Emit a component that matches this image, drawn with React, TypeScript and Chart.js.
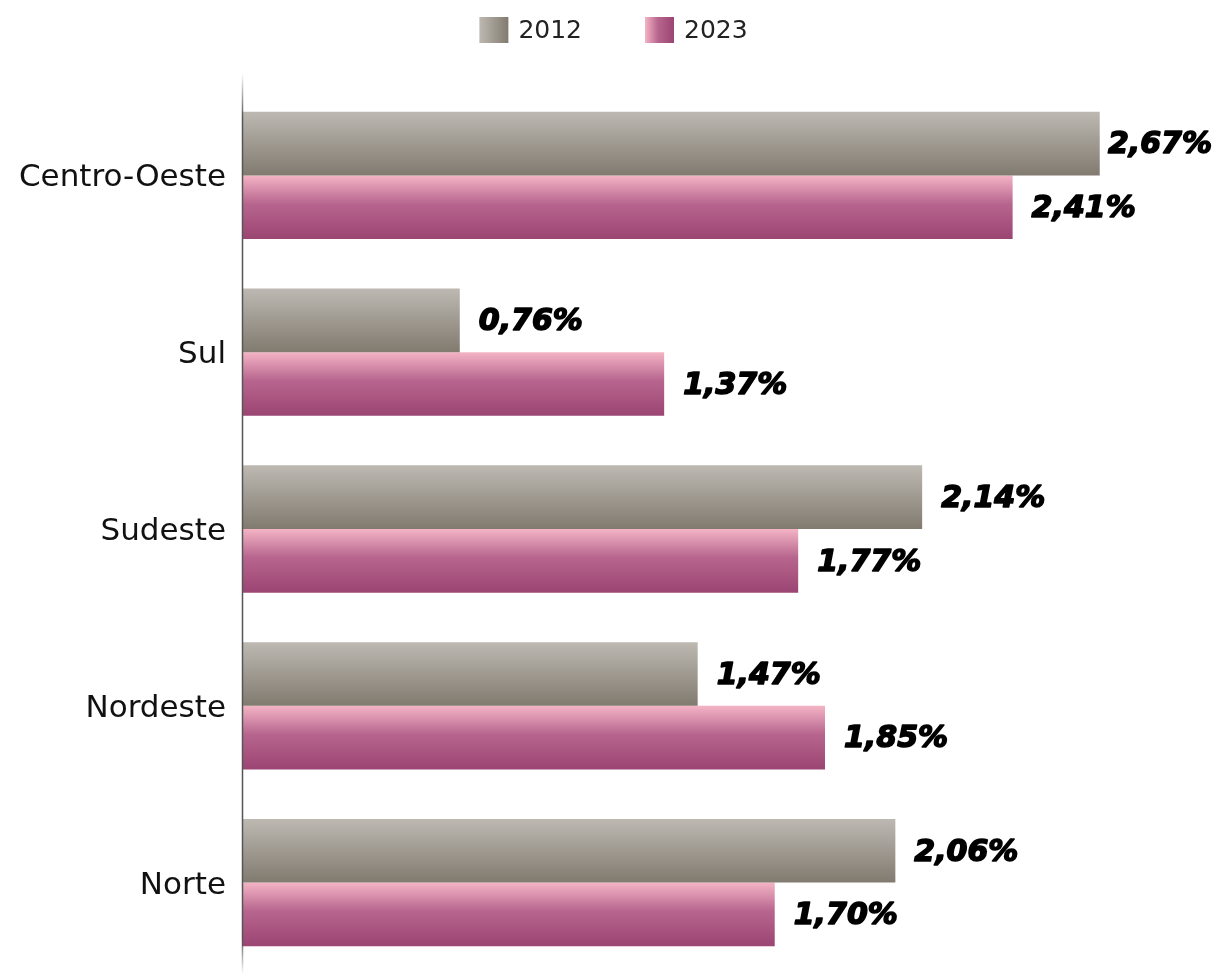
import React, { useEffect, useRef } from "react";
import { Chart, registerables } from "chart.js";

Chart.register(...registerables);

const categories = ["Centro-Oeste", "Sul", "Sudeste", "Nordeste", "Norte"];
const seriesLabels = ["2012", "2023"];
const values2012 = [2.67, 0.76, 2.14, 1.47, 2.06];
const values2023 = [2.41, 1.37, 1.77, 1.85, 1.7];

const axisMin = 0.11;
const axisMax = 3.02;

const grayStops: [number, string][] = [
  [0, "#bdb9b2"],
  [1, "#817a6f"],
];
const pinkStops: [number, string][] = [
  [0, "#f4b4c5"],
  [0.45, "#b7658e"],
  [1, "#9b4572"],
];
const seriesStops = [grayStops, pinkStops];

const CAT_PCT = 0.72;

function makeGradient(ctx: CanvasRenderingContext2D, x0: number, y0: number, x1: number, y1: number, stops: [number, string][]) {
  const g = ctx.createLinearGradient(x0, y0, x1, y1);
  stops.forEach(([o, c]) => g.addColorStop(o, c));
  return g;
}

function barFill(context: any) {
  const chart = context.chart;
  const stops = seriesStops[context.datasetIndex] || grayStops;
  if (!chart.chartArea || context.dataIndex === undefined) return stops[stops.length - 1][1];
  const y = chart.scales.y;
  const center = y.getPixelForValue(context.dataIndex);
  const catW = y.height / categories.length;
  const thick = (catW * CAT_PCT) / 2;
  const top = context.datasetIndex === 0 ? center - thick : center;
  return makeGradient(chart.ctx, 0, top, 0, top + thick, stops);
}

const fmt = (v: number) => v.toFixed(2).replace(".", ",") + "%";

const axisLinePlugin = {
  id: "axisLine",
  afterDatasetsDraw(chart: any) {
    const { ctx, chartArea } = chart;
    const x = chartArea.left + 0.5;
    const top = chartArea.top - 14;
    const bottom = chart.height;
    const g = ctx.createLinearGradient(0, top, 0, bottom);
    g.addColorStop(0, "rgba(85,85,85,0)");
    g.addColorStop(0.05, "rgba(85,85,85,1)");
    g.addColorStop(0.96, "rgba(85,85,85,1)");
    g.addColorStop(1, "rgba(85,85,85,0)");
    ctx.save();
    ctx.strokeStyle = g;
    ctx.lineWidth = 1.5;
    ctx.beginPath();
    ctx.moveTo(x, top);
    ctx.lineTo(x, bottom);
    ctx.stroke();
    ctx.restore();
  },
};

const dataLabelPlugin = {
  id: "dataLabels",
  afterDatasetsDraw(chart: any) {
    const { ctx } = chart;
    ctx.save();
    ctx.font = 'italic bold 30px "DejaVu Sans"';
    ctx.fillStyle = "#000";
    ctx.strokeStyle = "#000";
    ctx.lineWidth = 1.6;
    ctx.lineJoin = "round";
    ctx.textAlign = "left";
    ctx.textBaseline = "middle";
    chart.data.datasets.forEach((ds: any, di: number) => {
      const meta = chart.getDatasetMeta(di);
      meta.data.forEach((el: any, i: number) => {
        const text = fmt(ds.data[i]);
        const w = ctx.measureText(text).width;
        let x = el.x + 19;
        if (x + w > chart.width - 7) x = chart.width - 7 - w;
        ctx.fillText(text, x, el.y + 2);
        ctx.strokeText(text, x, el.y + 2);
      });
    });
    ctx.restore();
  },
};

const legendPlugin = {
  id: "customLegend",
  afterDraw(chart: any) {
    const { ctx } = chart;
    ctx.save();
    ctx.font = '25px "DejaVu Sans"';
    ctx.textBaseline = "middle";
    ctx.textAlign = "left";
    const boxW = 29;
    const boxH = 26;
    const gapText = 10;
    const gapItem = 63;
    const widths = seriesLabels.map((l) => boxW + gapText + ctx.measureText(l).width);
    const total = widths.reduce((a, b) => a + b, 0) + gapItem * (seriesLabels.length - 1);
    let x = chart.width / 2 + 4 - total / 2;
    const top = 17;
    seriesLabels.forEach((l, i) => {
      ctx.fillStyle = makeGradient(ctx, x, 0, x + boxW, 0, seriesStops[i]);
      ctx.fillRect(x, top, boxW, boxH);
      ctx.fillStyle = "#222";
      ctx.fillText(l, x + boxW + gapText, top + boxH / 2 + 1);
      x += widths[i] + gapItem;
    });
    ctx.restore();
  },
};

export default function App() {
  const ref = useRef<HTMLCanvasElement | null>(null);
  useEffect(() => {
    if (!ref.current) return;
    const chart = new Chart(ref.current, {
      type: "bar",
      data: {
        labels: categories,
        datasets: [
          { label: seriesLabels[0], data: values2012, backgroundColor: barFill, base: axisMin },
          { label: seriesLabels[1], data: values2023, backgroundColor: barFill, base: axisMin },
        ],
      },
      options: {
        indexAxis: "y",
        animation: false,
        responsive: true,
        maintainAspectRatio: false,
        layout: { padding: { top: 87, bottom: 3, left: 0, right: 2 } },
        datasets: { bar: { barPercentage: 1, categoryPercentage: CAT_PCT } },
        plugins: { legend: { display: false }, tooltip: { enabled: false } },
        scales: {
          x: { display: false, min: axisMin, max: axisMax },
          y: {
            grid: { display: false, drawTicks: false },
            border: { display: false },
            ticks: { padding: 16, labelOffset: 3, color: "#111", font: { family: "DejaVu Sans", size: 31 } },
            afterFit: (scale: any) => {
              scale.width = 242;
              scale.paddingTop = 0;
              scale.paddingBottom = 0;
            },
          },
        },
      } as any,
      plugins: [axisLinePlugin, dataLabelPlugin, legendPlugin],
    });
    return () => chart.destroy();
  }, []);
  return (
    <div style={{ position: "absolute", left: 0, top: 0, width: 1219, height: 974, background: "#fff" }}>
      <canvas ref={ref} />
    </div>
  );
}
